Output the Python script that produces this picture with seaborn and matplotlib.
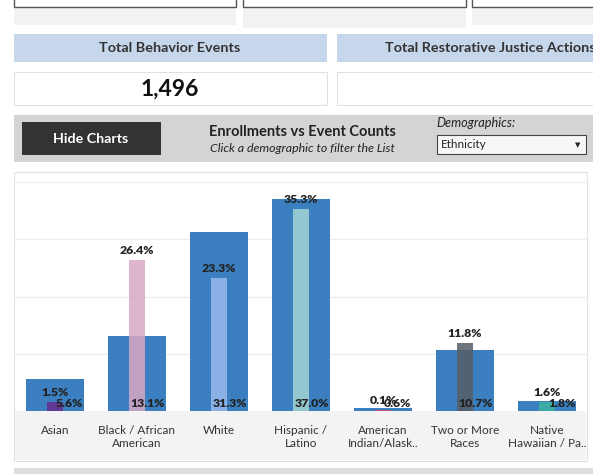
import numpy as np
import pandas as pd
import matplotlib
matplotlib.use('Agg')
import matplotlib.pyplot as plt
import seaborn as sns
from matplotlib.patches import Rectangle

# --- data ---
categories = ['Asian', 'Black / African\nAmerican', 'White', 'Hispanic /\nLatino',
              'American\nIndian/Alask..', 'Two or More\nRaces', 'Native\nHawaiian / Pa..']
enroll_pct = [5.6, 13.1, 31.3, 37.0, 0.6, 10.7, 1.8]
event_pct = [1.5, 26.4, 23.3, 35.3, 0.1, 11.8, 1.6]
event_colors = ['#6a2a8c', '#d9a8c4', '#99b9ec', '#a3d6d3', '#d84c5a', '#565d66', '#3bb39f']
total_events = '1,496'

W, H = 593, 474
sns.set_theme(style='white')
plt.rcParams['font.family'] = ['Lato', 'DejaVu Sans']

fig = plt.figure(figsize=(W / 100, H / 100), dpi=100)
fig.patch.set_facecolor('white')


def box(x0, y0, x1, y1, fc, ec='none', lw=0.8):
    # pixel coords from top-left -> figure fraction
    r = Rectangle((x0 / W, 1 - y1 / H), (x1 - x0) / W, (y1 - y0) / H,
                  transform=fig.transFigure, facecolor=fc, edgecolor=ec, lw=lw, zorder=-1)
    fig.patches.append(r)


def txt(x, y, s, **kw):
    fig.text(x / W, 1 - y / H, s, **kw)


# top filter boxes (cut off)
box(14, 0, 236, 25, '#f2f2f2')
box(243, 0, 466, 28, '#f2f2f2')
box(472, 0, 600, 25, '#f2f2f2')
box(14, -5, 236, 7, 'white', '#555555', 1.0)
box(243, -5, 466, 7, 'white', '#555555', 1.0)
box(472, -5, 600, 7, 'white', '#555555', 1.0)

# KPI headers
box(14, 34, 327, 62, '#c6d6eb')
box(337, 34, 600, 62, '#c6d6eb')
txt(170, 48, 'Total Behavior Events', ha='center', va='center', fontsize=10.4,
    fontweight='bold', color='#333333')
txt(385, 48, 'Total Restorative Justice Actions', ha='left', va='center', fontsize=10.4,
    fontweight='bold', color='#333333')
box(14, 72, 327, 105, 'white', '#e0e0e0')
box(337, 72, 600, 105, 'white', '#e0e0e0')
txt(170, 89, total_events, ha='center', va='center', fontsize=16.5, fontweight='bold',
    color='#111111')

# control band
box(14, 115, 600, 162, '#d4d4d4')
box(22, 122, 161, 155, '#333333')
txt(91, 139, 'Hide Charts', ha='center', va='center', fontsize=10.3, fontweight='bold',
    color='white')
txt(302, 132, 'Enrollments vs Event Counts', ha='center', va='center', fontsize=10.5,
    fontweight='bold', color='#222222')
txt(302, 149, 'Click a demographic to filter the List', ha='center', va='center',
    fontsize=8.9, style='italic', color='#222222')
txt(436, 123, 'Demographics:', ha='left', va='center', fontsize=9.2, style='italic',
    color='#222222')
box(437, 135, 586, 154, '#f7f7f7', '#444444')
txt(441, 145, 'Ethnicity', ha='left', va='center', fontsize=8.4, color='#222222')
txt(578, 145, '\u25bc', ha='center', va='center', fontsize=5, color='#222222',
    family=['DejaVu Sans'])

# chart panel
box(14, 172, 587, 461, 'white', '#e2e2e2')
box(15, 411, 586, 460, '#f3f3f3')
box(14, 468, 600, 474, '#dedede')

# plot area
ax = fig.add_axes([14 / W, 1 - 411 / H, 574 / W, 229 / H])
ax.set_facecolor('none')
df = pd.DataFrame({'category': categories, 'enroll': enroll_pct, 'events': event_pct})

sns.barplot(ax=ax, data=df, x='category', y='enroll', color='#3b7fc0',
            width=0.71, saturation=1, linewidth=0)
n_wide = len(ax.patches)
sns.barplot(ax=ax, data=df, x='category', y='events', hue='category',
            palette=event_colors, width=0.2, saturation=1, alpha=0.85, linewidth=0,
            legend=False)

wide = ax.patches[:n_wide]
narrow = ax.patches[n_wide:]

for p, v in zip(wide, enroll_pct):
    ax.text(p.get_x() + p.get_width() - 0.01, 0.3, f'{v:.1f}%', ha='right', va='bottom',
            fontsize=8.8, fontweight='heavy', color='#222222', zorder=5)
for p, v in zip(narrow, event_pct):
    ax.text(p.get_x() + p.get_width() / 2, p.get_height() + 0.7, f'{v:.1f}%',
            ha='center', va='bottom', fontsize=8.8, fontweight='heavy', color='#222222',
            zorder=5)

ax.set_ylim(0, 40)
ax.set_xlim(-0.5, len(categories) - 0.5)
ax.set_yticks([10, 20, 30, 40])
ax.yaxis.grid(True, color='#ececec', lw=0.8)
ax.set_axisbelow(True)
ax.tick_params(axis='y', left=False, labelleft=False)
ax.tick_params(axis='x', bottom=False, pad=4, labelsize=8.5, colors='#333333')
ax.set_xlabel('')
ax.set_ylabel('')
sns.despine(ax=ax, left=True, top=True, right=True, bottom=True)

fig.savefig('out.png', dpi=100)
